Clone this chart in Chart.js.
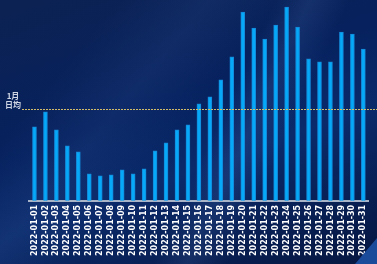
<!DOCTYPE html>
<html>
<head>
<meta charset="utf-8">
<script src="https://cdn.jsdelivr.net/npm/chart.js@4/dist/chart.umd.min.js"></script>
<style>
  html, body { margin: 0; padding: 0; }
  body {
    width: 377px; height: 264px; overflow: hidden;
    background:
      linear-gradient(115deg, rgba(255,255,255,0) 55%, rgba(120,160,230,0.12) 62%, rgba(255,255,255,0) 70%),
      linear-gradient(130deg, rgba(255,255,255,0) 20%, rgba(90,130,210,0.10) 35%, rgba(255,255,255,0) 48%),
      linear-gradient(160deg, #0c2252 0%, #06215e 40%, #0a2a6a 60%, #061640 100%);
  }
  #wrap { position: relative; width: 377px; height: 264px; }
  #corner {
    position: absolute; right: 0; bottom: 0; width: 0; height: 0;
    border-left: 22px solid transparent; border-bottom: 26px solid #1a4a9a;
  }
</style>
</head>
<body>
<div id="wrap">
  <canvas id="chart" width="377" height="264"></canvas>
  <div id="corner"></div>
</div>
<script>
// 2022年1月 日別
const days = [
  "2022-01-01","2022-01-02","2022-01-03","2022-01-04","2022-01-05","2022-01-06","2022-01-07","2022-01-08",
  "2022-01-09","2022-01-10","2022-01-11","2022-01-12","2022-01-13","2022-01-14","2022-01-15","2022-01-16",
  "2022-01-17","2022-01-18","2022-01-19","2022-01-20","2022-01-21","2022-01-22","2022-01-23","2022-01-24",
  "2022-01-25","2022-01-26","2022-01-27","2022-01-28","2022-01-29","2022-01-30","2022-01-31"
];
const values = [74, 89, 71, 55, 49, 27, 25, 26, 31, 27, 32, 50, 58, 71, 76, 97,
                104, 121, 144, 189, 173, 162, 176, 194, 174, 142, 139, 139, 169, 167, 152];
const dailyAvg = 92;
const avgLabel = ["1月", "日均"];

// 日均ライン
const avgLine = {
  id: "avgLine",
  afterDatasetsDraw(chart) {
    const ctx = chart.ctx;
    const y = Math.round(chart.scales.y.getPixelForValue(dailyAvg)) + 0.5;
    ctx.save();
    ctx.strokeStyle = "#d2bc6a";
    ctx.lineWidth = 1;
    ctx.setLineDash([2, 1]);
    ctx.beginPath();
    ctx.moveTo(22, y);
    ctx.lineTo(chart.width, y);
    ctx.stroke();
    ctx.setLineDash([]);
    ctx.fillStyle = "#d0d6e4";
    ctx.font = "bold 8px 'Noto Sans CJK JP'";
    ctx.textAlign = "center";
    ctx.textBaseline = "bottom";
    ctx.fillText(avgLabel[0], 13, y - 10);
    ctx.fillText(avgLabel[1], 13, y - 1);
    ctx.restore();
  }
};

new Chart(document.getElementById("chart"), {
  type: "bar",
  data: {
    labels: days,
    datasets: [{
      data: values,
      backgroundColor: "#06a8f8",
      borderColor: "#1488d8",
      borderWidth: { left: 1, right: 1, top: 1, bottom: 0 },
      barThickness: 4
    }]
  },
  options: {
    responsive: false,
    animation: false,
    layout: { padding: { left: 29, right: 3, top: 0, bottom: 4 } },
    plugins: { legend: { display: false }, tooltip: { enabled: false } },
    scales: {
      y: { display: false, min: 0, max: 201 },
      x: {
        grid: { display: false, drawTicks: false },
        border: { display: true, color: "#a8b4c8", width: 2 },
        ticks: {
          color: "#ffffff",
          font: { family: "DejaVu Sans", size: 8, weight: "bold" },
          minRotation: 90, maxRotation: 90,
          autoSkip: false,
          padding: 4
        }
      }
    }
  },
  plugins: [avgLine]
});
</script>
</body>
</html>
